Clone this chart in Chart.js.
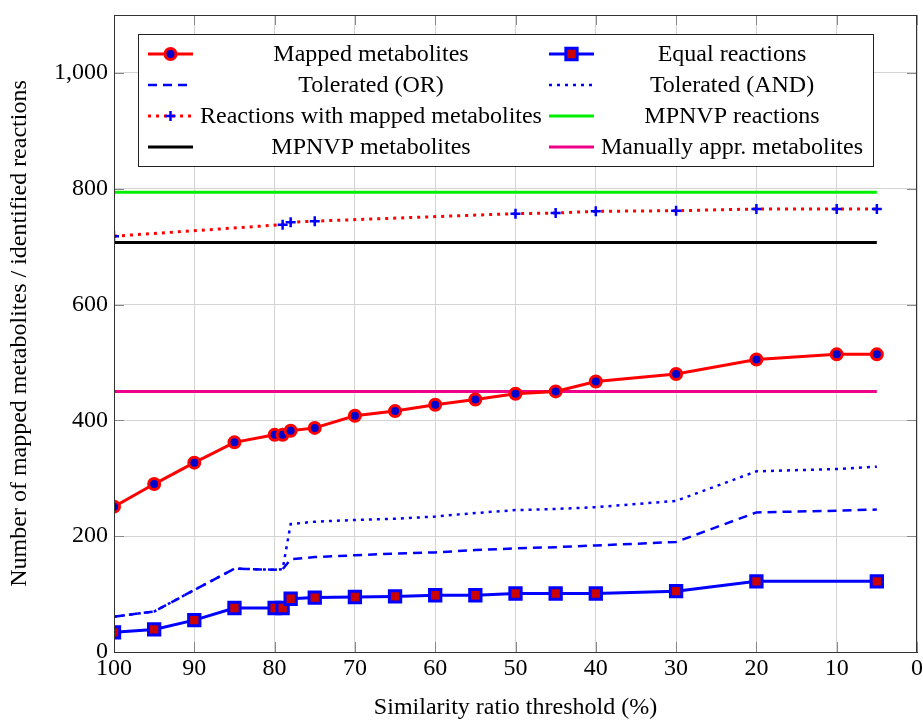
<!DOCTYPE html>
<html>
<head>
<meta charset="utf-8">
<script src="https://cdn.jsdelivr.net/npm/chart.js@4/dist/chart.umd.min.js"></script>
<style>
body { margin: 0; background: #fff; }
</style>
</head>
<body>
<canvas id="canvas" width="923" height="720"></canvas>
<script>
// data
var THRESHOLDS = [100, 95, 90, 85, 80, 79, 78, 75, 70, 65, 60, 55, 50, 45, 40, 30, 20, 10, 5];
var MAPPED_METABOLITES = [251, 290, 327, 362, 375, 375, 382, 387, 408, 416, 427, 436, 446, 450, 467, 480, 505, 514, 514];
var TOLERATED_OR  = [61, 70, 107, 144, 142, 143, 160, 164, 167, 170, 172, 176, 179, 181, 184, 190, 241, 244, 246];
var TOLERATED_AND = [61, 70, 107, 144, 142, 143, 221, 225, 228, 230, 234, 240, 245, 247, 250, 261, 312, 316, 320];

var EQUAL_THRESHOLDS = [100, 95, 90, 85, 80, 79, 78, 75, 70, 65, 60, 55, 50, 45, 40, 30, 20, 5];
var EQUAL_REACTIONS = [34, 39, 55, 76, 76, 76, 92, 94, 95, 96, 98, 98, 101, 101, 101, 105, 122, 122];

var REACTION_THRESHOLDS = [100, 79, 78, 75, 50, 45, 40, 30, 20, 10, 5];
var REACTIONS_MAPPED = [718, 738, 742, 744, 757, 758, 761, 762, 765, 765, 765];

var REF_THRESHOLDS = [100, 5];
var MPNVP_REACTIONS = 794;
var MPNVP_METABOLITES = 707;
var MANUAL_METABOLITES = 450;

var X_TICK_STEP = 10;
var Y_TICK_STEP = 200;

var FONT = 'Liberation Serif';

function pts(xs, ys){
    var out = [];
    for(var i = 0; i < xs.length; i++){
        out.push({x: xs[i], y: ys[i]});
    }
    return out;
}
function flat(xs, v){
    return xs.map(function(x){ return {x: x, y: v}; });
}

var config = {
    type: 'line',
    data: {
        datasets: [
            {label: 'Mapped metabolites', data: pts(THRESHOLDS, MAPPED_METABOLITES),
             borderColor: '#ff0000', borderWidth: 3, backgroundColor: '#0000ff',
             pointStyle: 'circle', pointRadius: 5.5, pointBorderWidth: 3, pointBorderColor: '#ff0000', pointBackgroundColor: '#0000cc'},
            {label: 'Equal reactions', data: pts(EQUAL_THRESHOLDS, EQUAL_REACTIONS),
             borderColor: '#0000ff', borderWidth: 3, backgroundColor: '#cc0000',
             pointStyle: 'rect', pointRadius: 8, pointBorderWidth: 3, pointBorderColor: '#0000ff', pointBackgroundColor: '#cc0000'},
            {label: 'Tolerated (OR)', data: pts(THRESHOLDS, TOLERATED_OR),
             borderColor: '#0000ff', borderWidth: 2.5, borderDash: [9, 6], pointRadius: 0},
            {label: 'Tolerated (AND)', data: pts(THRESHOLDS, TOLERATED_AND),
             borderColor: '#0000ff', borderWidth: 2.5, borderDash: [3, 5], pointRadius: 0},
            {label: 'Reactions with mapped metabolites', data: pts(REACTION_THRESHOLDS, REACTIONS_MAPPED),
             borderColor: '#ff0000', borderWidth: 3, borderDash: [3, 5],
             pointStyle: 'cross', pointRadius: 5, pointBorderWidth: 2.5, pointBorderColor: '#0000ff'},
            {label: 'MPNVP reactions', data: flat(REF_THRESHOLDS, MPNVP_REACTIONS),
             borderColor: '#00ee00', borderWidth: 3, pointRadius: 0},
            {label: 'MPNVP metabolites', data: flat(REF_THRESHOLDS, MPNVP_METABOLITES),
             borderColor: '#000000', borderWidth: 3, pointRadius: 0},
            {label: 'Manually appr. metabolites', data: flat(REF_THRESHOLDS, MANUAL_METABOLITES),
             borderColor: '#ee0088', borderWidth: 3, pointRadius: 0}
        ]
    },
    options: {
        responsive: false,
        animation: false,
        locale: 'en-US',
        // no auto padding for big markers, the frame is placed by hand
        layout: {autoPadding: false, padding: {left: 0, right: 6, top: 15, bottom: 0}},
        plugins: {legend: {display: false}, tooltip: {enabled: false}},
        elements: {line: {tension: 0}},
        scales: {
            x: {
                type: 'linear', reverse: true, min: 0, max: 100,
                afterFit: function(s){ s.height = 68; s.paddingLeft = 0; s.paddingRight = 0; },
                ticks: {stepSize: X_TICK_STEP, color: '#000', padding: 2, maxRotation: 0,
                        font: {family: FONT, size: 24}},
                grid: {color: '#d4d4d4', drawTicks: false},
                border: {color: '#333'},
                title: {display: true, text: 'Similarity ratio threshold (%)', color: '#000',
                        font: {family: FONT, size: 24, lineHeight: 1}, padding: {top: 0, bottom: 0}}
            },
            y: {
                min: 0, max: 1100,
                afterFit: function(s){ s.width = 114; s.paddingTop = 0; s.paddingBottom = 0; },
                ticks: {stepSize: Y_TICK_STEP, includeBounds: false, color: '#000', padding: 6,
                        font: {family: FONT, size: 24}},
                grid: {color: '#d4d4d4', drawTicks: false},
                border: {color: '#333'},
                title: {display: true, text: 'Number of mapped metabolites / identified reactions', color: '#000',
                        font: {family: FONT, size: 24, lineHeight: 1}, padding: {top: 8, bottom: 0}}
            }
        }
    },
    plugins: [{
        id: 'frameAndLegend',
        afterDatasetsDraw: function(chart){
            var ctx = chart.ctx;
            var a = chart.chartArea;
            var xs = chart.scales.x, ys = chart.scales.y;
            ctx.save();
            // tick marks on all four sides
            ctx.strokeStyle = '#888';
            ctx.lineWidth = 1;
            ctx.beginPath();
            for(var v = 0; v <= 100; v += X_TICK_STEP){
                var px = Math.round(xs.getPixelForValue(v)) + 0.5;
                ctx.moveTo(px, a.bottom); ctx.lineTo(px, a.bottom - 10);
                ctx.moveTo(px, a.top); ctx.lineTo(px, a.top + 10);
            }
            for(var w = 0; w <= 1000; w += Y_TICK_STEP){
                var py = Math.round(ys.getPixelForValue(w)) + 0.5;
                ctx.moveTo(a.left, py); ctx.lineTo(a.left + 10, py);
                ctx.moveTo(a.right, py); ctx.lineTo(a.right - 10, py);
            }
            ctx.stroke();
            // frame
            ctx.strokeStyle = '#333';
            ctx.strokeRect(Math.round(a.left) + 0.5, Math.round(a.top) + 0.5,
                           Math.round(a.right - a.left) - 1, Math.round(a.bottom - a.top));

            // legend box
            var bx = 138.5, by = 34.5, bw = 735, bh = 132;
            ctx.fillStyle = '#fff';
            ctx.fillRect(bx, by, bw, bh);
            ctx.strokeStyle = '#222';
            ctx.strokeRect(bx, by, bw, bh);
            ctx.font = '24px "' + FONT + '"';
            ctx.textAlign = 'center';
            ctx.textBaseline = 'middle';
            chart.data.datasets.forEach(function(ds, i){
                var col = i % 2, row = Math.floor(i / 2);
                var x0 = col ? 549 : 148, x1 = x0 + 45;
                var y = 54 + row * 31;
                ctx.save();
                ctx.strokeStyle = ds.borderColor;
                ctx.lineWidth = ds.borderWidth;
                ctx.setLineDash(ds.borderDash || []);
                ctx.beginPath();
                ctx.moveTo(x0, y); ctx.lineTo(x1, y);
                ctx.stroke();
                ctx.restore();
                if(ds.pointRadius > 0){
                    ctx.save();
                    ctx.fillStyle = ds.pointBackgroundColor || ds.pointBorderColor;
                    ctx.strokeStyle = ds.pointBorderColor;
                    ctx.lineWidth = ds.pointBorderWidth;
                    Chart.helpers.drawPoint(ctx, {pointStyle: ds.pointStyle, radius: ds.pointRadius,
                        borderWidth: ds.pointBorderWidth, rotation: 0}, (x0 + x1) / 2, y);
                    ctx.restore();
                }
                ctx.fillStyle = '#000';
                ctx.fillText(ds.label, col ? 732 : 371, y + 1);
            });
            ctx.restore();
        }
    }]
};

var chart = new Chart(document.getElementById('canvas').getContext('2d'), config);
</script>
</body>
</html>
